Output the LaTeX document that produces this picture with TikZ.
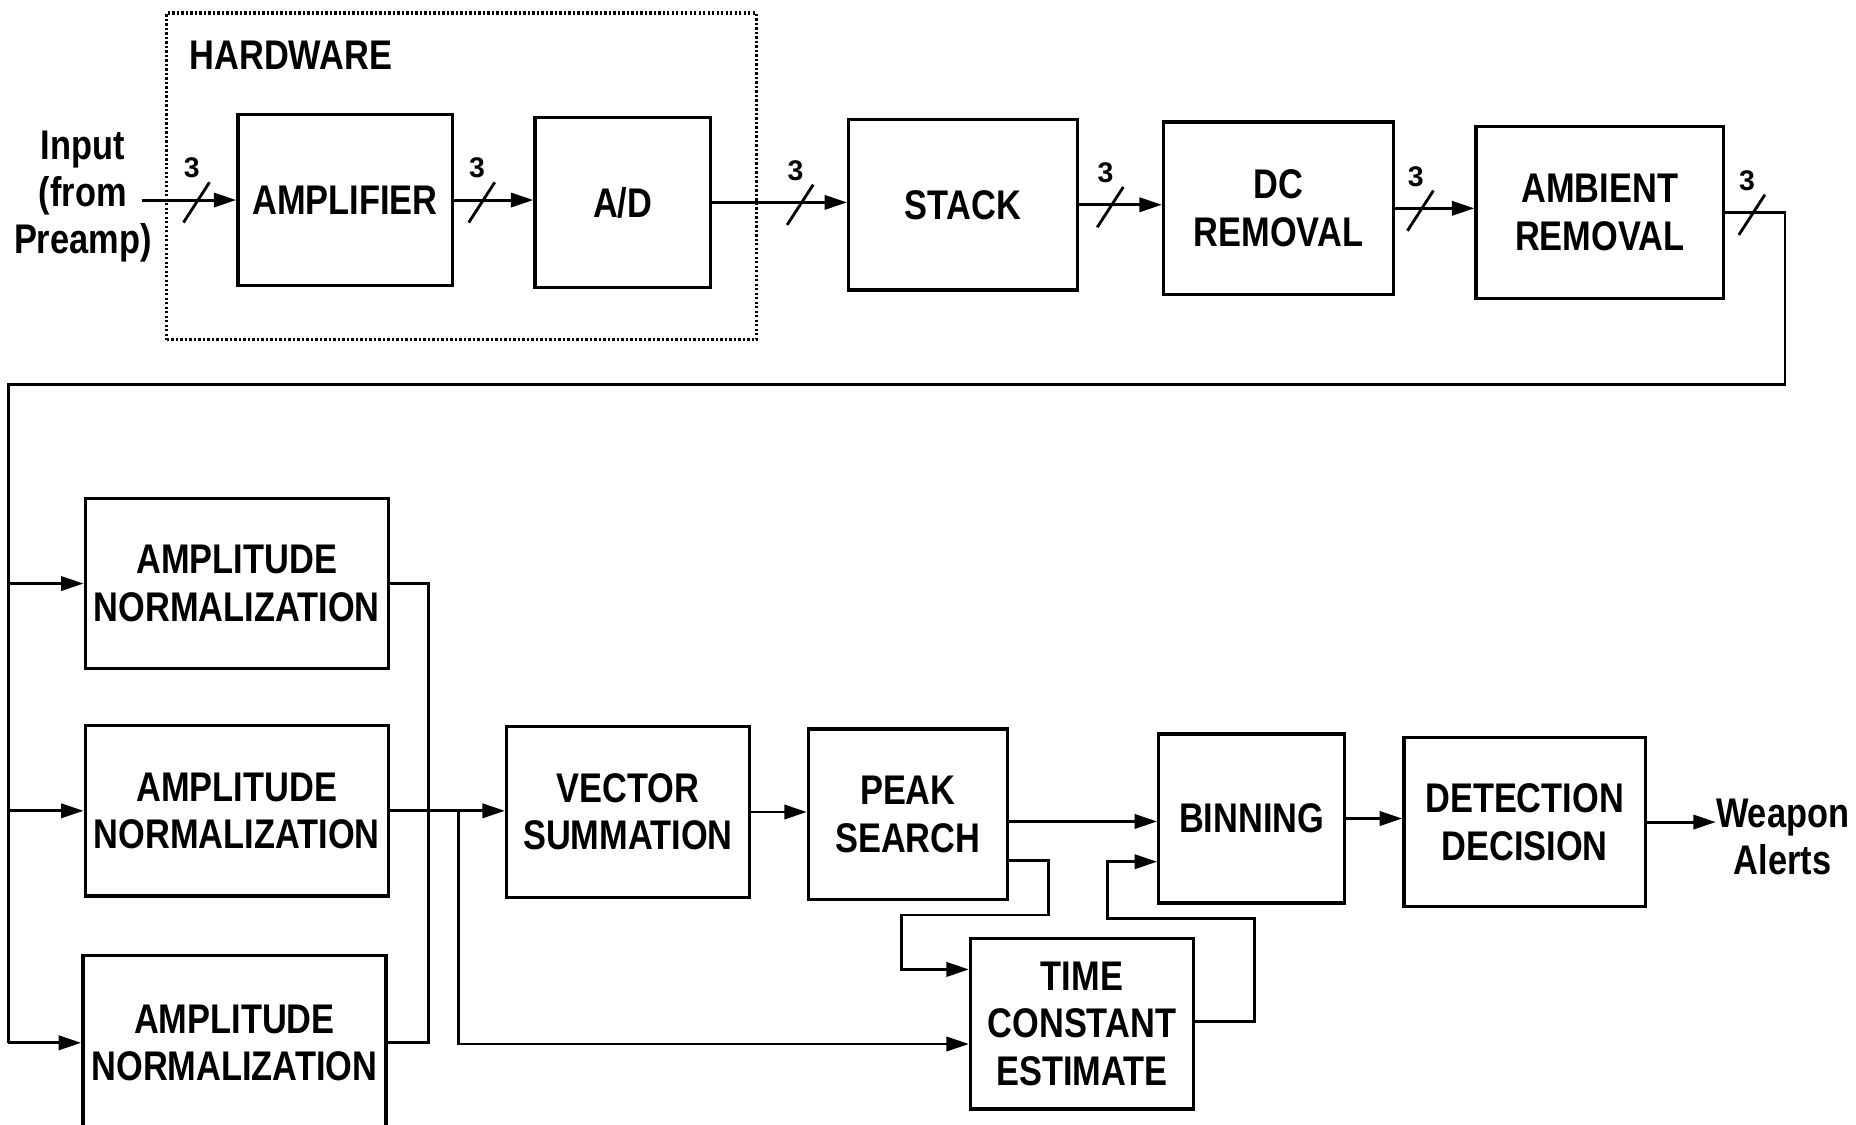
\documentclass[tikz,border=0pt]{standalone}
\usepackage{fontspec}
\newfontfamily\lab[FakeStretch=0.83]{Liberation Sans}
\newfontfamily\numf{Liberation Sans}
\usetikzlibrary{arrows.meta,calc}
\begin{document}
\begin{tikzpicture}[x=1pt,y=-1pt,
  blk/.style={draw,line width=2.8pt,inner sep=0pt,align=center,font=\lab\bfseries\fontsize{35}{40}\selectfont},
  txt/.style={inner sep=0pt,align=center,font=\lab\bfseries\fontsize{35}{40}\selectfont},
  num/.style={inner sep=0pt,font=\numf\bfseries\fontsize{24}{24}\selectfont},
  ln/.style={line width=2.5pt},
  arr/.style={ln,-{Triangle[length=19pt,width=12pt]}},
  bus/.style={line width=2.4pt},
]
\useasboundingbox (0,0) rectangle (1568,950);

% hardware frame
\node[draw,line width=2.6pt,dash pattern=on 2pt off 1.8pt,minimum width=498pt,minimum height=276pt,inner sep=0pt] (hw) at (390,149) {};
\node[txt,anchor=west] (hwl) at (160,47) {HARDWARE};

% top row
\node[blk,minimum width=181pt,minimum height=144pt] (amp) at (291.5,169) {AMPLIFIER};
\node[blk,minimum width=148pt,minimum height=144pt] (ad) at (526,171) {A/D};
\node[blk,minimum width=193pt,minimum height=144pt] (stack) at (813.5,173) {STACK};
\node[blk,minimum width=194pt,minimum height=146pt] (dc) at (1080,176) {DC\\REMOVAL};
\node[blk,minimum width=209pt,minimum height=145pt] (amb) at (1351.5,179.5) {AMBIENT\\REMOVAL};

\node[txt] (in) at (70,166) {Input\\(from\\Preamp)};
\coordinate (inp) at (120,169);

% normalization column
\node[blk,minimum width=256pt,minimum height=144pt] (an1) at (200,493) {AMPLITUDE\\NORMALIZATION};
\node[blk,minimum width=256pt,minimum height=144pt] (an2) at (200,685) {AMPLITUDE\\NORMALIZATION};
\node[blk,minimum width=256pt,minimum height=148pt] (an3) at (198,881) {AMPLITUDE\\NORMALIZATION};

% bottom row
\node[blk,minimum width=205pt,minimum height=144pt] (vs) at (530.5,686) {VECTOR\\SUMMATION};
\node[blk,minimum width=168pt,minimum height=144pt] (peak) at (767,688) {PEAK\\SEARCH};
\node[blk,minimum width=157pt,minimum height=143pt] (bin) at (1057.5,691.5) {BINNING};
\node[blk,minimum width=204pt,minimum height=143pt] (det) at (1288,694.5) {DETECTION\\DECISION};
\node[blk,minimum width=188pt,minimum height=144pt] (tce) at (914,865) {TIME\\CONSTANT\\ESTIMATE};
\node[txt] (wa) at (1506,707) {Weapon\\Alerts};

% top row connectors
\draw[arr] (inp) -- (amp.west);
\draw[arr] (amp.east) -- (ad.west |- amp.east);
\draw[arr] (ad.east) -- (stack.west |- ad.east);
\draw[arr] (stack.east) -- (dc.west |- stack.east);
\draw[arr] (dc.east) -- (amb.west |- dc.east);

% bus marks
\foreach \x/\y/\n in {166/169/n1,407/169/n2,676/171/n3,938/173/n4,1200/176/n5,1480/179.5/n6}{
  \draw[bus] ($(\x,\y)+(-11,19)$) -- ++(22,-34);
  \node[num] (\n) at ($(\x,\y)+(-4,-27)$) {3};
}

% feedback to normalization
\coordinate (r1) at (1508,325);
\coordinate (l1) at (7,325);
\draw[ln] (amb.east) -| (r1) -- (l1) -- (l1 |- an3.west);
\draw[arr] (l1 |- an1.west) -- (an1.west);
\draw[arr] (l1 |- an2.west) -- (an2.west);
\draw[arr] (l1 |- an3.west) -- (an3.west);

% normalization outputs
\coordinate (bx) at (362,0);
\draw[ln] (an1.east) -| (bx |- an3.east) -- (an3.east);
\draw[arr] (an2.east) -- (vs.west |- an2.east);
\coordinate (j1) at (387,685);
\coordinate (c3) at (387,882);
\draw[arr] (j1) -- (c3) -- (tce.west |- c3);

% bottom row connectors
\draw[arr] (vs.east) -- (peak.west |- vs.east);
\coordinate (pk1) at ($(peak.east)+(0,6)$);
\draw[arr] (pk1) -- (bin.west |- pk1);
\coordinate (pk2) at ($(peak.east)+(0,39)$);
\coordinate (c1) at (762,819);
\draw[arr] (pk2) -| (886,773) -| (c1) -- (tce.west |- c1);
\coordinate (t1) at ($(tce.east)+(0,-2)$);
\coordinate (c2) at (936,728);
\draw[arr] (t1) -| (1060,776) -| (c2) -- (bin.west |- c2);
\draw[arr] (bin.east) -- (det.west |- bin.east);
\draw[arr] (det.east) -- (wa.west |- det.east);
\end{tikzpicture}
\end{document}
